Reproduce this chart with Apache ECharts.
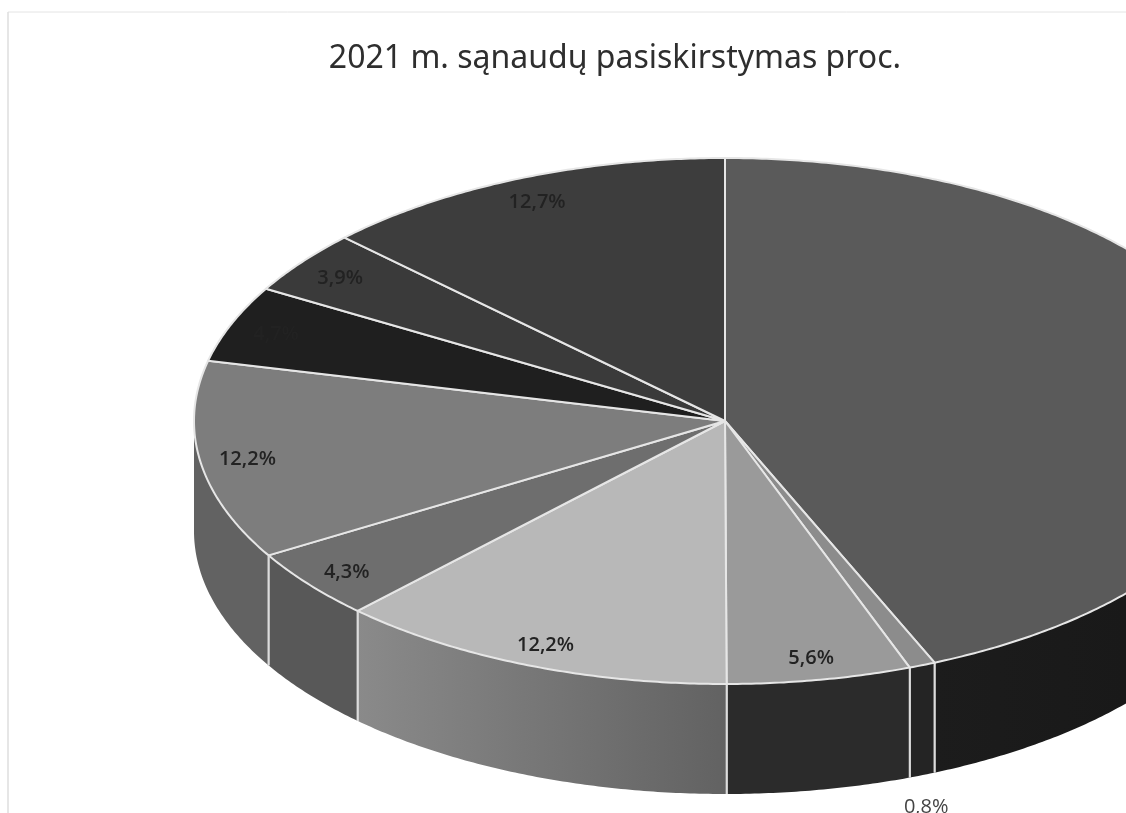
<!DOCTYPE html>
<html>
<head>
<meta charset="utf-8">
<title>2021 m. sąnaudų pasiskirstymas proc.</title>
<script src="https://cdn.jsdelivr.net/npm/echarts@6/dist/echarts.min.js"></script>
<style>
html, body { margin: 0; padding: 0; background: #fff; }
#chart { width: 1126px; height: 813px; }
</style>
</head>
<body>
<div id="chart"></div>
<script>
// values clockwise from 12 o'clock (the big slice label is cut off in the picture)
var shares = [43.5, 0.8, 5.6, 12.2, 4.3, 12.2, 4.7, 3.9, 12.7];
var shareLabels = ['', '0,8%', '5,6%', '12,2%', '4,3%', '12,2%', '4,7%', '3,9%', '12,7%'];
var topColors = ['#5a5a5a', '#8c8c8c', '#9a9a9a', '#b8b8b8', '#6e6e6e', '#7d7d7d', '#1f1f1f', '#3a3a3a', '#3d3d3d'];
var wallColors = [['#171717', '#1c1c1c'], ['#242424', '#242424'], ['#2b2b2b', '#2b2b2b'], ['#626262', '#8a8a8a'],
    ['#585858', '#585858'], ['#626262', '#626262'], ['#222', '#222'], ['#222', '#222'], ['#222', '#222']];

var cx = 725, cy = 421, rx = 531, ry = 263, depth = 110;
var total = shares.reduce(function (a, b) { return a + b; }, 0);

function rim(deg, down) {
    var t = deg * Math.PI / 180;
    return [cx + rx * Math.sin(t), cy - ry * Math.cos(t) + (down || 0)];
}

function renderSlice(params, api) {
    var i = params.dataIndex;
    var before = 0;
    for (var k = 0; k < i; k++) before += shares[k];
    var a = before / total * 360;
    var b = (before + api.value(0)) / total * 360;
    var children = [];
    var d;

    // front wall only shows between 90 and 270 degrees
    var wa = Math.max(a, 90), wb = Math.min(b, 270);
    if (wb > wa) {
        var pts = [];
        for (d = wa; d < wb; d += 0.5) pts.push(rim(d));
        pts.push(rim(wb));
        for (d = wb; d > wa; d -= 0.5) pts.push(rim(d, depth));
        pts.push(rim(wa, depth));
        children.push({
            type: 'polygon',
            shape: { points: pts },
            style: {
                fill: new echarts.graphic.LinearGradient(0, 0, 1, 0, [
                    { offset: 0, color: wallColors[i][1] },
                    { offset: 1, color: wallColors[i][0] }
                ])
            }
        });
        [a, b].forEach(function (e) {
            if (e > 90 && e < 270) {
                var p1 = rim(e), p2 = rim(e, depth);
                children.push({
                    type: 'line',
                    shape: { x1: p1[0], y1: p1[1], x2: p2[0], y2: p2[1] },
                    style: { stroke: '#dcdcdc', lineWidth: 2 }
                });
            }
        });
    }

    var top = [[cx, cy]];
    for (d = a; d < b; d += 0.5) top.push(rim(d));
    top.push(rim(b));
    children.push({
        type: 'polygon',
        shape: { points: top },
        style: { fill: topColors[i], stroke: '#e6e6e6', lineWidth: 2, lineJoin: 'round' }
    });

    if (shareLabels[i]) {
        var mid = (a + b) / 2 * Math.PI / 180;
        var small = api.value(0) < 1;
        // tiny slice has its label under the wall, the others sit just inside the rim
        var f = small ? 1 : 0.91;
        children.push({
            type: 'text',
            z2: 10,
            style: {
                x: cx + rx * f * Math.sin(mid) + (small ? 4 : 0),
                y: cy - ry * f * Math.cos(mid) + (small ? depth + 32 : 2),
                text: shareLabels[i],
                fill: small ? '#444' : '#222',
                font: (small ? 'normal' : '600') + ' 20px "Open Sans"',
                align: 'center',
                verticalAlign: 'middle'
            }
        });
    }
    return { type: 'group', children: children };
}

var myChart = echarts.init(document.getElementById('chart'));
var option = {
    animation: false,
    backgroundColor: '#fff',
    title: {
        text: '2021 m. sąnaudų pasiskirstymas proc.',
        left: 610,
        top: 38,
        textAlign: 'center',
        textStyle: { fontFamily: 'Noto Sans', fontWeight: 'normal', fontSize: 32, color: '#2e2e2e' }
    },
    graphic: [
        { type: 'line', shape: { x1: 8, y1: 12, x2: 1126, y2: 12 }, style: { stroke: '#e4e4e4', lineWidth: 1 } },
        { type: 'line', shape: { x1: 8, y1: 12, x2: 8, y2: 813 }, style: { stroke: '#dedede', lineWidth: 1.5 } }
    ],
    series: [{
        type: 'custom',
        coordinateSystem: 'none',
        silent: true,
        renderItem: renderSlice,
        data: shares.map(function (v) { return [v]; })
    }]
};
option && myChart.setOption(option);
</script>
</body>
</html>
